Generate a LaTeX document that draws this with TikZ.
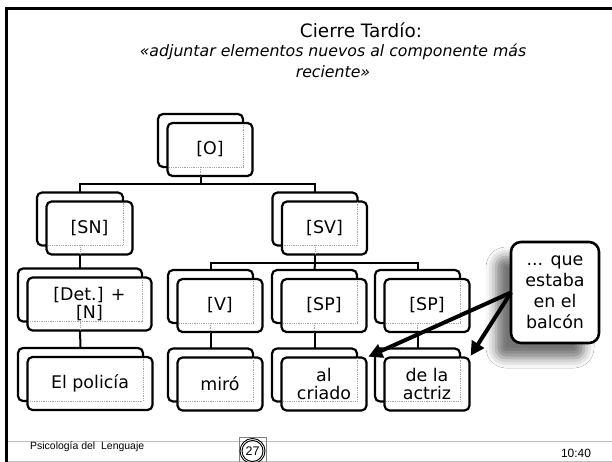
\documentclass[tikz,border=0pt]{standalone}
\usepackage{fontspec}
\setmainfont{DejaVu Sans}
\newfontfamily\arialfont{Liberation Sans}
\usetikzlibrary{arrows.meta,shadows.blur,calc}
\tikzset{
 boxline/.style={draw=black, line width=2.2bp, rounded corners=5bp, fill=white, inner sep=0pt, outer sep=0pt, minimum height=53bp},
 backbox/.style={boxline},
 frontbox/.style={boxline, align=center, font=\fontsize{17.5}{19}\selectfont},
 hiddenline/.style={draw=black!35, densely dotted, line width=0.8bp},
 conn/.style={draw=black, line width=2bp},
 bigarrow/.style={draw=black, line width=4bp, -{Triangle[length=14bp,width=14bp]}, shorten >=2bp},
 callout/.style={draw=black, line width=2.6bp, rounded corners=10bp, fill=white, minimum width=88bp, minimum height=101bp, align=center, font=\fontsize{17.5}{21}\selectfont, inner sep=0pt, outer sep=0pt, blur shadow={shadow xshift=-15bp, shadow yshift=-15bp, shadow blur radius=10bp, shadow opacity=55}},
 footer/.style={font=\arialfont\fontsize{10.5}{12}\selectfont, inner sep=0pt},
}
\newcommand\treepair[5]{%
 \node[backbox, minimum width=#4] (#1b) at (#2,#3) {};
 \node[frontbox, minimum width=#4] (#1) at ($(#2,#3)+(9.5,9)$) {#5};
 \begin{scope}
  \clip ([shift={(1.4,-1.4)}]#1.south west) rectangle ([shift={(-1.4,1.4)}]#1.north east);
  \draw[hiddenline] (#1b.south west) rectangle (#1b.north east);
 \end{scope}
}
\begin{document}
\begin{tikzpicture}[x=1bp,y=-1bp]
\useasboundingbox (0,0) rectangle (612,462);
\fill[white] (0,0) rectangle (612,462);
% frame
\draw[line width=3bp] (6.5,462) -- (6.5,8.5) -- (612,8.5);
% titles
\node[font=\fontsize{18.5}{22}\selectfont, inner sep=0pt] (title) at (361,30) {Cierre Tardío:};
\node[font=\itshape\fontsize{15.8}{21}\selectfont, align=center, inner sep=0pt] (sub) at (333,61) {«adjuntar elementos nuevos al componente más\\reciente»};
% tree
\treepair{O}{200.5}{140.5}{85bp}{[O]}
\treepair{SN}{80}{219}{86bp}{[SN]}
\treepair{SV}{315}{219}{85bp}{[SV]}
\treepair{Det}{80}{295}{124bp}{[Det.] +\\{[N]}}
\treepair{V}{210.5}{296.5}{85bp}{[V]}
\treepair{SPx}{314.5}{296.5}{85bp}{[SP]}
\treepair{SPy}{417.5}{296.5}{85bp}{[SP]}
\treepair{pol}{80.5}{374.5}{125bp}{El policía}
\treepair{mir}{210.5}{375}{85bp}{miró}
\treepair{cri}{314.5}{375}{85bp}{al\\criado}
\treepair{act}{417.5}{375}{85bp}{de la\\actriz}
% connectors
\coordinate (busO) at (200.5,184);
\draw[conn] (Ob.south |- O.south) -- (busO) -| (SNb.north);
\draw[conn] (busO) -| (SVb.north);
\draw[hiddenline] (Ob.south) -- (Ob.south |- O.south);
\draw[conn] (SNb.south |- SN.south) -- (Detb.north);
\draw[hiddenline] (SNb.south) -- (SNb.south |- SN.south);
\coordinate (busV) at (315,263);
\draw[conn] (SVb.south |- SV.south) -- (busV);
\draw[hiddenline] (SVb.south) -- (SVb.south |- SV.south);
\draw[conn] (Vb.north) |- (SPyb.north |- busV) -- (SPyb.north);
\draw[conn] (busV) -- (SPxb.north);
\draw[conn] (Detb.south |- Det.south) -- (polb.north);
\draw[hiddenline] (Detb.south) -- (Detb.south |- Det.south);
\draw[conn] (Vb.south |- V.south) -- (mirb.north);
\draw[hiddenline] (Vb.south) -- (Vb.south |- V.south);
\draw[conn] (SPxb.south |- SPx.south) -- (crib.north);
\draw[hiddenline] (SPxb.south) -- (SPxb.south |- SPx.south);
\draw[conn] (SPyb.south |- SPy.south) -- (actb.north);
\draw[hiddenline] (SPyb.south) -- (SPyb.south |- SPy.south);
% callout
\node[callout] (qu) at (555,292.5) {... que\\estaba\\en el\\balcón};
\draw[bigarrow] (qu.west) -- (cri.north east);
\draw[bigarrow] (qu.west) -- (act.north east);
% footer
\draw[black!25, line width=0.8bp] (8,441) -- (612,441);
\draw[black!25, line width=0.8bp] (8,461) -- (612,461);
\node[footer, anchor=west] (psi) at (30,447) {Psicología del~ Lenguaje};
\node[footer, font=\arialfont\fontsize{12}{13}\selectfont] (time) at (576,453) {10:40};
\draw[black!50, line width=0.5bp] (239,437) rectangle (266,464);
\node[circle, draw, line width=0.9bp, minimum size=25bp, inner sep=0pt, font=\arialfont\fontsize{12.5}{13}\selectfont] (pg) at (252.5,451) {27};
\draw[line width=0.9bp] (pg.center) circle (10.5bp);
\end{tikzpicture}
\end{document}
